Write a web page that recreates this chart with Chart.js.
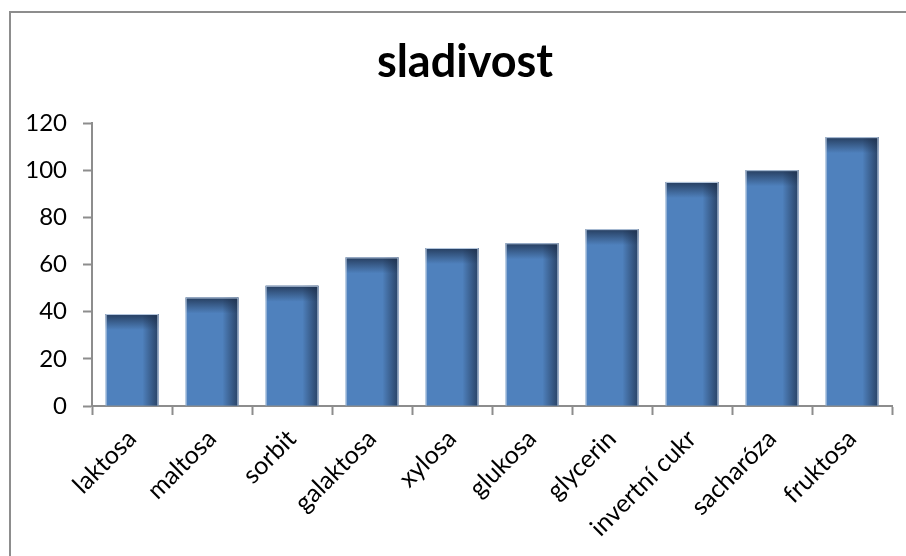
<!DOCTYPE html>
<html lang="cs">
<head>
<meta charset="utf-8">
<title>sladivost</title>
<script src="https://cdn.jsdelivr.net/npm/chart.js@4.4.1/dist/chart.umd.min.js"></script>
<style>
  html, body {
    margin: 0;
    padding: 0;
    background: #fff;
    overflow: hidden;
    width: 906px;
    height: 556px;
  }
  #frame {
    position: absolute;
    left: 9px;
    top: 11px;
    width: 2000px;
    height: 2000px;
    border-left: 2px solid #8d8d8d;
    border-top: 2px solid #8d8d8d;
    pointer-events: none;
  }
  #sweetness-chart {
    position: absolute;
    left: 0;
    top: 0;
  }
</style>
</head>
<body>
<canvas id="sweetness-chart" width="930" height="556"></canvas>
<div id="frame"></div>
<script>
const categories = ['laktosa', 'maltosa', 'sorbit', 'galaktosa', 'xylosa', 'glukosa', 'glycerin', 'invertní cukr', 'sacharóza', 'fruktosa'];
const sweetness = [39, 46, 51, 63, 67, 69, 75, 95, 100, 114];
const yMin = 0;
const yMax = 120;
const yStep = 20;

const axisColor = '#8d8d8d';
const fontFamily = 'Lato, "Open Sans", sans-serif';

// darkened top and right edges, light rim, like an office-style bevel
const barShading = {
  id: 'barShading',
  afterDatasetsDraw(chart) {
    const { ctx } = chart;
    const meta = chart.getDatasetMeta(0);
    meta.data.forEach((bar) => {
      const { x, y, base, width } = bar.getProps(['x', 'y', 'base', 'width'], true);
      const left = x - width / 2;
      const right = x + width / 2;
      const height = base - y;

      ctx.save();
      const side = ctx.createLinearGradient(right - 16, 0, right, 0);
      side.addColorStop(0, 'rgba(28, 45, 72, 0)');
      side.addColorStop(1, 'rgba(28, 45, 72, 0.75)');
      ctx.fillStyle = side;
      ctx.fillRect(right - 16, y, 16, height);

      const topBand = Math.min(16, height);
      const top = ctx.createLinearGradient(0, y, 0, y + topBand);
      top.addColorStop(0, 'rgba(28, 45, 72, 0.8)');
      top.addColorStop(1, 'rgba(28, 45, 72, 0)');
      ctx.fillStyle = top;
      ctx.fillRect(left, y, width, topBand);

      ctx.strokeStyle = 'rgba(190, 208, 230, 0.95)';
      ctx.lineWidth = 1;
      ctx.beginPath();
      ctx.moveTo(left + 0.5, base);
      ctx.lineTo(left + 0.5, y + 0.5);
      ctx.lineTo(right - 0.5, y + 0.5);
      ctx.lineTo(right - 0.5, base);
      ctx.stroke();
      ctx.restore();
    });
  },
};

const ctx = document.getElementById('sweetness-chart').getContext('2d');

new Chart(ctx, {
  type: 'bar',
  data: {
    labels: categories,
    datasets: [
      {
        label: 'sladivost',
        data: sweetness,
        backgroundColor: '#4f81bd',
        borderWidth: 0,
        categoryPercentage: 1,
        barPercentage: 0.66,
      },
    ],
  },
  options: {
    responsive: false,
    animation: false,
    devicePixelRatio: 1,
    layout: {
      padding: 0,
    },
    plugins: {
      legend: { display: false },
      tooltip: { enabled: false },
      title: {
        display: true,
        text: 'sladivost',
        color: '#000',
        font: { family: fontFamily, size: 45, weight: 'bold' },
        padding: { top: 35, bottom: 34 },
      },
    },
    scales: {
      x: {
        grid: {
          drawOnChartArea: false,
          drawTicks: true,
          tickLength: 9,
          tickWidth: 2,
          color: axisColor,
          offset: true,
        },
        border: { display: true, color: axisColor, width: 2 },
        ticks: {
          color: '#000',
          font: { family: fontFamily, size: 25 },
          minRotation: 45,
          maxRotation: 45,
          autoSkip: false,
          padding: 9,
        },
        afterFit(scale) {
          scale.height = 150;
          // empty strip on the right; the title stays centred on the full canvas
          scale.paddingRight = 38;
        },
      },
      y: {
        min: yMin,
        max: yMax,
        grid: {
          drawOnChartArea: false,
          drawTicks: true,
          tickLength: 9,
          tickWidth: 2,
          color: axisColor,
        },
        border: { display: true, color: axisColor, width: 2 },
        ticks: {
          stepSize: yStep,
          color: '#000',
          font: { family: fontFamily, size: 24 },
          padding: 16,
        },
        afterFit(scale) {
          scale.width = 92;
        },
      },
    },
  },
  plugins: [barShading],
});
</script>
</body>
</html>
